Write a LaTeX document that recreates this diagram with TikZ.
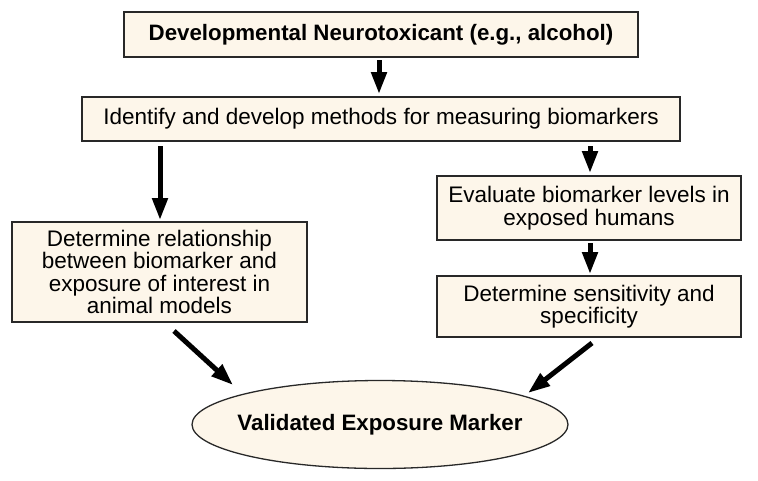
\documentclass[tikz,border=0pt]{standalone}
\usepackage{fontspec}
\setmainfont{Liberation Sans}
\usetikzlibrary{arrows.meta,shapes.geometric}
\definecolor{cream}{RGB}{253,246,234}
\definecolor{edge}{RGB}{40,40,40}
\begin{document}
\begin{tikzpicture}[x=1pt,y=-1pt,
  box/.style={draw=edge,line width=1.3pt,fill=cream,inner sep=0pt,font=\fontsize{22.5}{22.5}\selectfont,align=center},
  bigarrow/.style={line width=5pt,-{Triangle[length=22pt,width=15pt]}}]
\useasboundingbox (0,0) rectangle (758,480);
\node[box,minimum width=514pt,minimum height=45pt,font=\bfseries\fontsize{22.3}{22.5}\selectfont] (a) at (381,34.5) {Developmental Neurotoxicant (e.g., alcohol)};
\node[box,minimum width=598pt,minimum height=44pt] (b) at (381,119) {Identify and develop methods for measuring biomarkers};
\node[box,minimum width=295pt,minimum height=100pt] (c) at (159.5,272) {Determine relationship\\between biomarker and\\exposure of interest in\\animal models};
\node[box,minimum width=304pt,minimum height=64pt] (d) at (589,208) {Evaluate biomarker levels in\\exposed humans};
\node[box,minimum width=304pt,minimum height=61pt] (e) at (589,306.5) {Determine sensitivity and\\specificity};
\node[ellipse,draw=edge,line width=1.3pt,fill=cream,minimum width=376pt,minimum height=88pt,inner xsep=-14pt,inner ysep=0pt,font=\bfseries\fontsize{22.3}{22.5}\selectfont] (f) at (380,424.5) {Validated Exposure Marker};
\coordinate (a1) at (379,60);
\coordinate (a2) at (379,94);
\coordinate (l1) at (160,146);
\coordinate (l2) at (160,220);
\coordinate (r1) at (590,146);
\coordinate (r2) at (590,173);
\coordinate (r3) at (590,243);
\coordinate (r4) at (590,274);
\coordinate (dl1) at (174,331);
\coordinate (dl2) at (233,385);
\coordinate (dr1) at (592,343);
\coordinate (dr2) at (528,393);
\draw[bigarrow] (a1) -- (a2);
\draw[bigarrow] (l1) -- (l2);
\draw[bigarrow] (r1) -- (r2);
\draw[bigarrow] (r3) -- (r4);
\draw[bigarrow] (dl1) -- (dl2);
\draw[bigarrow] (dr1) -- (dr2);
\end{tikzpicture}
\end{document}
